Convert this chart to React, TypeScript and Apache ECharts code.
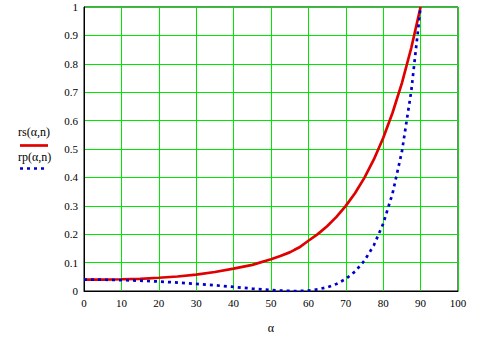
import React, { useEffect, useRef } from "react";
import * as echarts from "echarts";

const angles = [0, 5, 10, 15, 20, 25, 30, 35, 40, 45, 50, 52.5, 55, 56.3, 57.5, 60, 62.5, 65, 67.5, 70, 72.5, 75, 77.5, 80, 82.5, 85, 87.5, 90];
const rsValues = [0.04, 0.0403, 0.0413, 0.043, 0.0466, 0.051, 0.0577, 0.067, 0.079, 0.092, 0.112, 0.123, 0.136, 0.145, 0.153, 0.177, 0.2003, 0.2281, 0.2609, 0.2996, 0.3453, 0.3993, 0.4633, 0.5387, 0.6276, 0.7322, 0.8556, 1.0];
const rpValues = [0.04, 0.0397, 0.0383, 0.0362, 0.0334, 0.0297, 0.0252, 0.0201, 0.01435, 0.00845, 0.00328, 0.00134, 0.00018, 0.0, 0.000165, 0.0018, 0.00576, 0.013, 0.0246, 0.0425, 0.0688, 0.1072, 0.1608, 0.2368, 0.3436, 0.4906, 0.7035, 1.0];
const legendLabels = ["rs(\u03b1,n)", "rp(\u03b1,n)"];
const xAxisLabel = "\u03b1";

const FONT = "Liberation Serif";
const GRID_GREEN = "#00e600";

export default function App() {
  const ref = useRef<HTMLDivElement>(null);
  useEffect(() => {
    document.body.style.margin = "0";
    const chart = echarts.init(ref.current!, null, { renderer: "svg" });
    const rsData = angles.map((a, i) => [a, rsValues[i]]);
    const rpData = angles.map((a, i) => [a, rpValues[i]]);
    chart.setOption({
      animation: false,
      backgroundColor: "#ffffff",
      textStyle: { fontFamily: FONT },
      grid: {
        left: 84,
        top: 7,
        right: 25,
        bottom: 47,
        show: true,
        borderColor: "#000",
        borderWidth: 1,
        containLabel: false,
      },
      xAxis: {
        type: "value",
        min: 0,
        max: 100,
        interval: 10,
        name: xAxisLabel,
        nameLocation: "middle",
        nameGap: 31,
        nameTextStyle: { fontFamily: FONT, fontSize: 12, color: "#000" },
        axisLine: { show: true, onZero: false, lineStyle: { color: "#000", width: 1 } },
        axisTick: { show: false },
        axisLabel: { fontFamily: FONT, fontSize: 11, color: "#000", margin: 6 },
        splitLine: { show: true, lineStyle: { color: GRID_GREEN, width: 1 } },
      },
      yAxis: {
        type: "value",
        min: 0,
        max: 1,
        interval: 0.1,
        axisLine: { show: true, lineStyle: { color: "#000", width: 1 } },
        axisTick: { show: false },
        axisLabel: { fontFamily: FONT, fontSize: 11, color: "#000", margin: 6 },
        splitLine: { show: true, lineStyle: { color: GRID_GREEN, width: 1 } },
      },
      series: [
        {
          type: "line",
          name: legendLabels[0],
          data: rsData,
          showSymbol: false,
          smooth: false,
          lineStyle: { color: "#e00000", width: 2.7 },
          z: 3,
        },
        {
          type: "line",
          name: legendLabels[1],
          data: rpData,
          showSymbol: false,
          smooth: false,
          lineStyle: { color: "#0000cc", width: 2.7, type: [3, 4] },
          z: 4,
        },
      ],
      graphic: [
        {
          type: "text",
          left: 18,
          top: 126,
          style: { text: legendLabels[0], fontFamily: FONT, fontSize: 12, fill: "#000" },
        },
        {
          type: "line",
          shape: { x1: 20, y1: 145.5, x2: 48, y2: 145.5 },
          style: { stroke: "#e00000", lineWidth: 2.7 },
        },
        {
          type: "text",
          left: 18,
          top: 151,
          style: { text: legendLabels[1], fontFamily: FONT, fontSize: 12, fill: "#000" },
        },
        {
          type: "line",
          shape: { x1: 20, y1: 168.5, x2: 48, y2: 168.5 },
          style: { stroke: "#0000cc", lineWidth: 2.7, lineDash: [3, 4] },
        },
      ],
    });
    return () => chart.dispose();
  }, []);
  return <div ref={ref} style={{ width: 483, height: 339 }} />;
}
